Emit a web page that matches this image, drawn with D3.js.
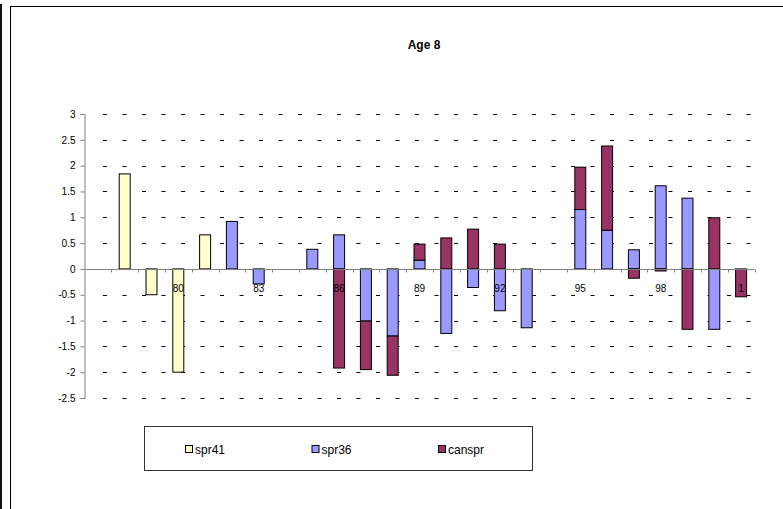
<!DOCTYPE html>
<meta charset="utf-8">
<style>
body { margin: 0; background: #fff; }
svg { display: block; font-family: Arial, "Liberation Sans", sans-serif; }
</style>
<svg width="783" height="509"></svg>
<script src="https://d3js.org/d3.v7.min.js"></script>
<script>

// categories: years 1977..2001, labelled by their last digits
var years = ["77","78","79","80","81","82","83","84","85","86","87","88","89",
             "90","91","92","93","94","95","96","97","98","99","0","1"];
var shownYears = ["80","83","86","89","92","95","98","1"];

var spr41  = [0, 1.84, -0.50, -2.00, 0.66, 0, 0, 0, 0, 0, 0, 0, 0,
              0, 0, 0, 0, 0, 0, 0, 0, 0, 0, 0, 0];
var spr36  = [0, 0, 0, 0, 0, 0.92, -0.29, 0, 0.38, 0.66, -1.01, -1.30, 0.17,
              -1.25, -0.36, -0.81, -1.14, 0, 1.15, 0.75, 0.37, 1.61, 1.37, -1.17, 0];
var canspr = [0, 0, 0, 0, 0, 0, 0, 0, 0, -1.92, -0.94, -0.76, 0.31,
              0.60, 0.77, 0.48, 0, 0, 0.82, 1.63, -0.18, -0.04, -1.17, 0.99, -0.54];

var seriesNames = ["spr41", "spr36", "canspr"];
var colors = ["#ffffcc", "#9999ff", "#993366"];
var yTicks = [-2.5, -2, -1.5, -1, -0.5, 0, 0.5, 1, 1.5, 2, 2.5, 3];

var rows = years.map(function(y, i) {
  return {year: y, spr41: spr41[i], spr36: spr36[i], canspr: canspr[i]};
});

var svg = d3.select("svg");

// window edge and chart frame
svg.append("rect").attr("x", 0).attr("y", 4).attr("width", 2).attr("height", 505).attr("fill", "#111");
svg.append("rect")
    .attr("x", 10.5).attr("y", 6.5).attr("width", 800).attr("height", 600)
    .attr("fill", "none").attr("stroke", "#000");

svg.append("text")
    .attr("x", 424).attr("y", 49)
    .attr("text-anchor", "middle")
    .attr("font-size", 12).attr("font-weight", "bold")
    .text("Age 8");

var x = d3.scaleBand().domain(years).range([84.5, 754.5]);
var y = d3.scaleLinear().domain([-2.5, 3]).range([398, 114]);
var barW = x.bandwidth() * 0.41;

// dashed gridlines
svg.append("g").selectAll("line")
  .data(yTicks.filter(function(d) { return d !== 0; }))
  .enter().append("line")
    .attr("x1", 103).attr("x2", 754)
    .attr("y1", function(d) { return Math.round(y(d)) + 0.5; })
    .attr("y2", function(d) { return Math.round(y(d)) + 0.5; })
    .attr("stroke", "#000")
    .attr("stroke-dasharray", "4,15.5");

var stacked = d3.stack()
    .keys(seriesNames)
    .offset(d3.stackOffsetDiverging)(rows);

var g = svg.append("g");
stacked.forEach(function(layer, k) {
  g.append("g")
      .attr("fill", colors[k])
      .attr("stroke", "#000")
    .selectAll("rect")
    .data(layer.filter(function(d) { return d[1] !== d[0]; }))
    .enter().append("rect")
      .attr("x", function(d) { return x(d.data.year) + (x.bandwidth() - barW) / 2; })
      .attr("y", function(d) { return y(Math.max(d[0], d[1])); })
      .attr("width", barW)
      .attr("height", function(d) { return Math.abs(y(d[0]) - y(d[1])); });
});

// y axis
var yAxis = svg.append("g")
    .attr("transform", "translate(84.5,0)")
    .call(d3.axisLeft(y).tickValues(yTicks).tickSize(4).tickPadding(5)
        .tickFormat(function(d) { return d; }));
yAxis.select(".domain").attr("stroke", "#808080");
yAxis.selectAll(".tick line").attr("stroke", "#808080");
yAxis.selectAll("text").attr("font-size", 10).attr("fill", "#000").style("font-family", "Arial, 'Liberation Sans', sans-serif");

// x axis at zero: tick marks at category boundaries
var zeroY = Math.round(y(0)) + 0.5;
svg.append("line")
    .attr("x1", 84.5).attr("x2", 754.5)
    .attr("y1", zeroY).attr("y2", zeroY)
    .attr("stroke", "#808080");
svg.append("g").selectAll("line")
  .data(years)
  .enter().append("line")
    .attr("x1", function(d) { return Math.round(x(d) + x.bandwidth()) + 0.5; })
    .attr("x2", function(d) { return Math.round(x(d) + x.bandwidth()) + 0.5; })
    .attr("y1", zeroY).attr("y2", zeroY + 3)
    .attr("stroke", "#808080");

svg.append("g").selectAll("text")
  .data(shownYears)
  .enter().append("text")
    .attr("x", function(d) { return x(d) + x.bandwidth() / 2; })
    .attr("y", zeroY + 22)
    .attr("text-anchor", "middle")
    .attr("font-size", 10)
    .text(function(d) { return d; });

// legend
var legend = svg.append("g");
legend.append("rect")
    .attr("x", 144.5).attr("y", 426.5).attr("width", 388).attr("height", 44)
    .attr("fill", "#fff").attr("stroke", "#333");
var legendX = d3.scalePoint().domain(seriesNames).range([185, 438]);
var item = legend.selectAll(".item")
  .data(seriesNames)
  .enter().append("g")
    .attr("transform", function(d) { return "translate(" + legendX(d) + ",445)"; });
item.append("rect")
    .attr("x", 0.5).attr("y", 0.5).attr("width", 7).attr("height", 7)
    .attr("fill", function(d, i) { return colors[i]; })
    .attr("stroke", "#000");
item.append("text")
    .attr("x", 10).attr("y", 8.5)
    .attr("font-size", 12)
    .text(function(d) { return d; });

</script>
